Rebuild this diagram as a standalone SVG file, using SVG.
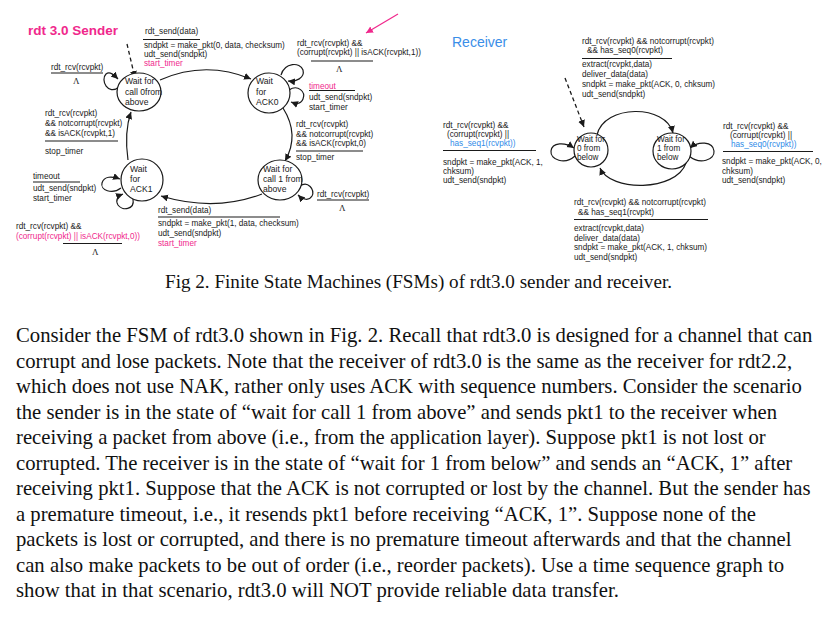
<svg xmlns="http://www.w3.org/2000/svg" width="832" height="620" viewBox="0 0 832 620">
<style>
.t{font-family:"Liberation Sans",Arial,sans-serif;font-size:8.2px;fill:#1a1a1a}
.s{font-family:"Liberation Sans",Arial,sans-serif;font-size:8.6px;fill:#1a1a1a}
.pk{fill:#f0288c}
.bl{fill:#2f8ce8}
.st{fill:#fff;stroke:#1a1a1a;stroke-width:1.2}
.e{fill:none;stroke:#1a1a1a;stroke-width:1.2;marker-end:url(#ah)}
.d{fill:none;stroke:#1a1a1a;stroke-width:1.3;stroke-dasharray:4 3;marker-end:url(#ah)}
.u{stroke:#1a1a1a;stroke-width:1.2}
.p{font-family:"Liberation Serif","Times New Roman",serif;font-size:20.7px;fill:#111}
</style>
<defs>
<marker id="ah" markerUnits="userSpaceOnUse" markerWidth="8" markerHeight="8" refX="7" refY="3.5" orient="auto"><path d="M0,0 L7,3.5 L0,7 z" fill="#1a1a1a"/></marker>
<marker id="ahp" markerUnits="userSpaceOnUse" markerWidth="8" markerHeight="8" refX="7" refY="3.5" orient="auto"><path d="M0,0 L7,3.5 L0,7 z" fill="#f0288c"/></marker>
</defs>
<rect width="832" height="620" fill="#fff"/>

<text x="28" y="35" font-family="Liberation Sans,Arial,sans-serif" font-size="13.5" font-weight="bold" fill="#f0288c">rdt 3.0 Sender</text>
<text x="452" y="47" font-family="Liberation Sans,Arial,sans-serif" font-size="14" fill="#3a8ee8">Receiver</text>

<g id="connectors">
<path class="d" d="M127,44 L135,78"/>
<path class="e" d="M160,80 Q205,60 251,79"/>
<path class="e" d="M283,108 Q300,135 285,161"/>
<path class="e" d="M262,194 Q215,212 161,196"/>
<path class="e" d="M128,160 Q124,132 131,112"/>
<path class="e" d="M119,87 C108,96 100,80 106,74 C110,71 114,75 118,79"/>
<path class="e" d="M281,75 C285,62 300,62 303,70 C305,78 296,82 288,81"/>
<path class="e" d="M289,90 C298,84 306,92 303,99 C301,104 296,104 291,102"/>
<path class="e" d="M121,188 C112,195 100,190 102,183 C104,176 112,176 120,179"/>
<path class="e" d="M133,199 C135,210 122,211 118,205 C115,200 118,196 123,194"/>
<path class="e" d="M300,186 C308,180 315,190 312,196 C309,201 303,200 298,195"/>
<path d="M398,14 L366,33" fill="none" stroke="#f0288c" stroke-width="1.2" marker-end="url(#ahp)"/>
<path class="d" d="M565,78 L584,127"/>
<path class="e" d="M597,135 C604,104 666,104 673,133"/>
<path class="e" d="M686,163 C676,192 610,192 600,168"/>
<path class="e" d="M575,156 C565,165 550,160 551,151 C552,142 565,142 574,148"/>
<path class="e" d="M689,156 C700,165 715,160 714,151 C713,141 698,141 690,148"/>
</g>

<g id="call0">
<ellipse class="st" cx="139" cy="92" rx="22" ry="19"/>
<text class="s" x="125" y="84">Wait for</text>
<text class="s" x="125" y="95">call 0from</text>
<text class="s" x="125" y="105">above</text>
</g>
<g id="ack0">
<ellipse class="st" cx="269" cy="93" rx="21" ry="20"/>
<text class="s" x="256" y="84">Wait</text>
<text class="s" x="256" y="95">for</text>
<text class="s" x="256" y="105">ACK0</text>
</g>
<g id="call1">
<ellipse class="st" cx="280" cy="180" rx="22" ry="20"/>
<text class="s" x="263" y="172">Wait for</text>
<text class="s" x="263" y="182">call 1 from</text>
<text class="s" x="263" y="192">above</text>
</g>
<g id="ack1">
<ellipse class="st" cx="142" cy="180" rx="21" ry="21"/>
<text class="s" x="130" y="172">Wait</text>
<text class="s" x="130" y="182">for</text>
<text class="s" x="130" y="192">ACK1</text>
</g>
<g id="wait0below">
<ellipse class="st" cx="591" cy="150" rx="17" ry="17"/>
<text class="t" x="577" y="142">Wait for</text>
<text class="t" x="577" y="151">0 from</text>
<text class="t" x="577" y="160">below</text>
</g>
<g id="wait1below">
<ellipse class="st" cx="672" cy="151" rx="19" ry="18"/>
<text class="t" x="657" y="142">Wait for</text>
<text class="t" x="657" y="151">1 from</text>
<text class="t" x="657" y="160">below</text>
</g>

<g id="labels">
<text class="t" x="145" y="34">rdt_send(data)</text>
<line class="u" x1="143" y1="39.5" x2="200" y2="39.5"/>
<text class="t" x="144" y="48">sndpkt = make_pkt(0, data, checksum)</text>
<text class="t" x="144" y="57">udt_send(sndpkt)</text>
<text class="t pk" x="144" y="66">start_timer</text>

<text class="t" x="51" y="70">rdt_rcv(rcvpkt)</text>
<line class="u" x1="51" y1="73" x2="103" y2="73"/>
<text x="73" y="84" font-family="Liberation Serif,serif" font-size="9" fill="#1a1a1a">Λ</text>

<text class="t" x="297" y="46">rdt_rcv(rcvpkt) &amp;&amp;</text>
<text class="t" x="297" y="55">(corrupt(rcvpkt) || isACK(rcvpkt,1))</text>
<line class="u" x1="311" y1="61" x2="373" y2="61"/>
<text x="336" y="72" font-family="Liberation Serif,serif" font-size="9" fill="#1a1a1a">Λ</text>

<text class="t pk" x="309" y="89">timeout</text>
<line x1="309" y1="90.5" x2="355" y2="90.5" stroke="#1a1a1a" stroke-width="1"/>
<text class="t" x="309" y="100">udt_send(sndpkt)</text>
<text class="t" x="309" y="110">start_timer</text>

<text class="t" x="296" y="127">rdt_rcv(rcvpkt)</text>
<text class="t" x="296" y="137">&amp;&amp; notcorrupt(rcvpkt)</text>
<text class="t" x="296" y="146">&amp;&amp; isACK(rcvpkt,0)</text>
<line class="u" x1="296" y1="151" x2="363" y2="151"/>
<text class="t" x="296" y="160">stop_timer</text>

<text class="t" x="317" y="197">rdt_rcv(rcvpkt)</text>
<line class="u" x1="317" y1="200" x2="369" y2="200"/>
<text x="339" y="211" font-family="Liberation Serif,serif" font-size="9" fill="#1a1a1a">Λ</text>

<text class="t" x="45" y="116">rdt_rcv(rcvpkt)</text>
<text class="t" x="45" y="126">&amp;&amp; notcorrupt(rcvpkt)</text>
<text class="t" x="45" y="136">&amp;&amp; isACK(rcvpkt,1)</text>
<line class="u" x1="45" y1="141" x2="118" y2="141"/>
<text class="t" x="45" y="154">stop_timer</text>

<text class="t" x="33" y="179">timeout</text>
<line class="u" x1="33" y1="182" x2="80" y2="182"/>
<text class="t" x="33" y="191">udt_send(sndpkt)</text>
<text class="t" x="33" y="201">start_timer</text>

<text class="t" x="158" y="213">rdt_send(data)</text>
<line class="u" x1="158" y1="217" x2="280" y2="217"/>
<text class="t" x="158" y="226">sndpkt = make_pkt(1, data, checksum)</text>
<text class="t" x="158" y="236">udt_send(sndpkt)</text>
<text class="t pk" x="158" y="246">start_timer</text>

<text class="t" x="16" y="229">rdt_rcv(rcvpkt) &amp;&amp;</text>
<text class="t pk" x="16" y="239">(corrupt(rcvpkt) || isACK(rcvpkt,0))</text>
<line class="u" x1="63" y1="243.5" x2="122" y2="243.5"/>
<text x="92" y="255" font-family="Liberation Serif,serif" font-size="9" fill="#1a1a1a">Λ</text>

<text class="t" x="582" y="44">rdt_rcv(rcvpkt) &amp;&amp; notcorrupt(rcvpkt)</text>
<text class="t" x="587" y="53">&amp;&amp; has_seq0(rcvpkt)</text>
<line class="u" x1="582" y1="58.5" x2="672" y2="58.5"/>
<text class="t" x="582" y="67">extract(rcvpkt,data)</text>
<text class="t" x="582" y="77">deliver_data(data)</text>
<text class="t" x="582" y="87">sndpkt = make_pkt(ACK, 0, chksum)</text>
<text class="t" x="582" y="97">udt_send(sndpkt)</text>

<text class="t" x="443" y="128">rdt_rcv(rcvpkt) &amp;&amp;</text>
<text class="t" x="447" y="137">(corrupt(rcvpkt) ||</text>
<text class="t bl" x="450" y="146">has_seq1(rcvpkt))</text>
<line class="u" x1="443" y1="150.5" x2="536" y2="150.5"/>
<text class="t" x="443" y="165">sndpkt = make_pkt(ACK, 1,</text>
<text class="t" x="443" y="174">chksum)</text>
<text class="t" x="443" y="183">udt_send(sndpkt)</text>

<text class="t" x="723" y="129">rdt_rcv(rcvpkt) &amp;&amp;</text>
<text class="t" x="730" y="138">(corrupt(rcvpkt) ||</text>
<text class="t bl" x="731" y="147">has_seq0(rcvpkt))</text>
<line class="u" x1="723" y1="151.5" x2="813" y2="151.5"/>
<text class="t" x="722" y="164">sndpkt = make_pkt(ACK, 0,</text>
<text class="t" x="722" y="174">chksum)</text>
<text class="t" x="722" y="183">udt_send(sndpkt)</text>

<text class="t" x="574" y="205">rdt_rcv(rcvpkt) &amp;&amp; notcorrupt(rcvpkt)</text>
<text class="t" x="578" y="215">&amp;&amp; has_seq1(rcvpkt)</text>
<line class="u" x1="574" y1="219.5" x2="708" y2="219.5"/>
<text class="t" x="574" y="231">extract(rcvpkt,data)</text>
<text class="t" x="574" y="241">deliver_data(data)</text>
<text class="t" x="574" y="250">sndpkt = make_pkt(ACK, 1, chksum)</text>
<text class="t" x="574" y="260">udt_send(sndpkt)</text>
</g>

<text x="165" y="288" textLength="507" lengthAdjust="spacingAndGlyphs" font-family="Liberation Serif,Times New Roman,serif" font-size="18.5" fill="#111">Fig 2. Finite State Machines (FSMs) of rdt3.0 sender and receiver.</text>

<g id="paragraph">
<text class="p" x="16" y="342">Consider the FSM of rdt3.0 shown in Fig. 2. Recall that rdt3.0 is designed for a channel that can</text>
<text class="p" x="16" y="367.5">corrupt and lose packets. Note that the receiver of rdt3.0 is the same as the receiver for rdt2.2,</text>
<text class="p" x="16" y="393">which does not use NAK, rather only uses ACK with sequence numbers. Consider the scenario</text>
<text class="p" x="16" y="418.5">the sender is in the state of “wait for call 1 from above” and sends pkt1 to the receiver when</text>
<text class="p" x="16" y="444">receiving a packet from above (i.e., from the application layer). Suppose pkt1 is not lost or</text>
<text class="p" x="16" y="469.5">corrupted. The receiver is in the state of “wait for 1 from below” and sends an “ACK, 1” after</text>
<text class="p" x="16" y="495">receiving pkt1. Suppose that the ACK is not corrupted or lost by the channel. But the sender has</text>
<text class="p" x="16" y="520.5">a premature timeout, i.e., it resends pkt1 before receiving “ACK, 1”. Suppose none of the</text>
<text class="p" x="16" y="546">packets is lost or corrupted, and there is no premature timeout afterwards and that the channel</text>
<text class="p" x="16" y="571.5">can also make packets to be out of order (i.e., reorder packets). Use a time sequence graph to</text>
<text class="p" x="16" y="597">show that in that scenario, rdt3.0 will NOT provide reliable data transfer.</text>
</g>
</svg>
